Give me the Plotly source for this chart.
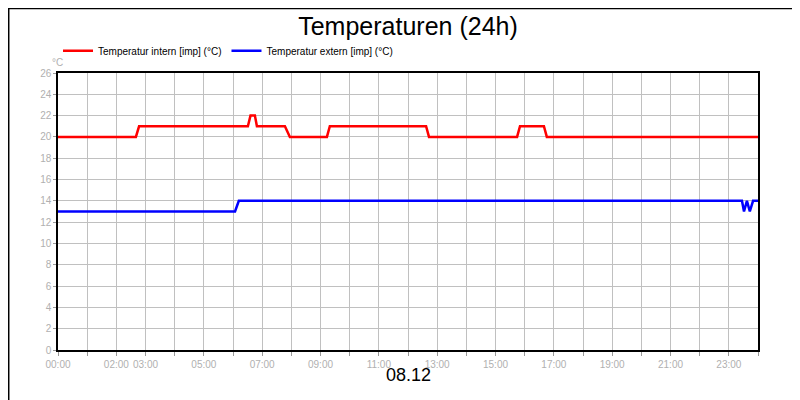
import plotly.graph_objects as go

# time in hours since 00:00
intern_x = [0, 2.67, 2.78, 6.51, 6.6, 6.75, 6.82, 7.78, 7.95, 9.22, 9.32, 12.62, 12.72, 15.74, 15.84, 16.66, 16.76, 24]
intern_y = [20, 20, 21, 21, 22, 22, 21, 21, 20, 20, 21, 21, 20, 20, 21, 21, 20, 20]
extern_x = [0, 6.07, 6.2, 23.45, 23.52, 23.62, 23.72, 23.83, 24]
extern_y = [13, 13, 14, 14, 13, 14, 13, 14, 14]

tick_hours = list(range(0, 25))
tick_text = ["00:00", "", "02:00", "03:00", "", "05:00", "", "07:00", "", "09:00", "", "11:00", "",
             "13:00", "", "15:00", "", "17:00", "", "19:00", "", "21:00", "", "23:00", ""]

fig = go.Figure()
fig.add_trace(go.Scatter(x=intern_x, y=intern_y, mode="lines", name="Temperatur intern [imp] (°C)",
                         line=dict(color="#ff0000", width=2.5)))
fig.add_trace(go.Scatter(x=extern_x, y=extern_y, mode="lines", name="Temperatur extern [imp] (°C)",
                         line=dict(color="#0000ff", width=2.5)))

fig.update_layout(
    width=800, height=400,
    margin=dict(l=50, r=50, t=65, b=58, autoexpand=False),
    paper_bgcolor="white", plot_bgcolor="white",
    font=dict(family="Liberation Sans", size=10, color="black"),
    title=dict(text="Temperaturen (24h)", x=0.5, xanchor="center", y=0.955, yanchor="middle",
               font=dict(size=25, family="Liberation Sans")),
    legend=dict(orientation="h", x=0.0, y=1.08, xanchor="left", yanchor="middle",
                font=dict(size=10), itemwidth=30, tracegroupgap=0),
    xaxis=dict(range=[0, 24], tickvals=tick_hours, ticktext=tick_text, tickangle=0, automargin=False,
               showgrid=True, gridcolor="#c0c0c0", gridwidth=1, showline=True, linecolor="black",
               linewidth=1.5, mirror=True, ticks="outside", ticklen=4, tickcolor="#999999",
               tickfont=dict(color="#b0b0b0", size=10), zeroline=False),
    yaxis=dict(range=[0, 26], dtick=2, automargin=False, showgrid=True, gridcolor="#c0c0c0", gridwidth=1,
               showline=True, linecolor="black", linewidth=1.5, mirror=True,
               ticks="outside", ticklen=3, tickcolor="#999999",
               tickfont=dict(color="#b0b0b0", size=10), zeroline=False),
    annotations=[
        dict(text="08.12", x=0.5, y=-0.135, xref="paper", yref="paper", showarrow=False,
             font=dict(size=18, color="black")),
        dict(text="°C", x=-0.012, y=1.065, xref="paper", yref="paper", showarrow=False,
             font=dict(size=10, color="#b0b0b0")),
    ],
    shapes=[dict(type="rect", xref="paper", yref="paper", x0=-0.0704, x1=1.0704, y0=-0.207, y1=1.2325,
                 line=dict(color="black", width=1.5))],
)

fig.write_html("out.html")
